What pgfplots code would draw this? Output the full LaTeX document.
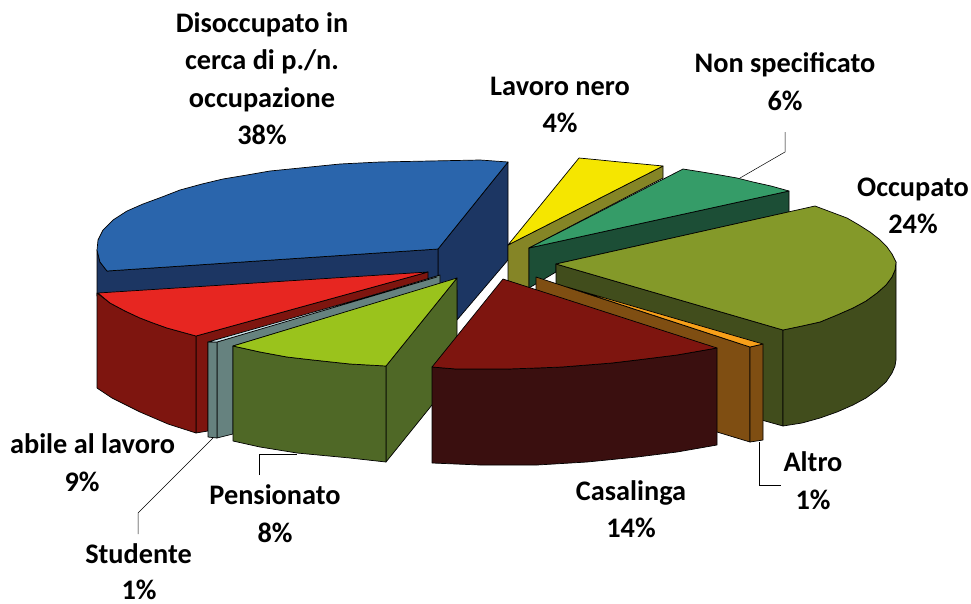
\documentclass[border=0pt]{standalone}
\usepackage{fontspec}
\setmainfont{Carlito}[BoldFont={Carlito Bold}]
\usepackage{pgfplots}
\pgfplotsset{compat=1.18}
\definecolor{blu}{HTML}{2A65AC}
\definecolor{blud}{HTML}{1C3663}
\definecolor{rd}{HTML}{E72621}
\definecolor{rdd}{HTML}{7E150F}
\definecolor{stu}{HTML}{CFE8F0}
\definecolor{stud}{HTML}{66827F}
\definecolor{lim}{HTML}{9AC31C}
\definecolor{limd}{HTML}{4F6826}
\definecolor{yel}{HTML}{F5E600}
\definecolor{yeld}{HTML}{858526}
\definecolor{grn}{HTML}{359C68}
\definecolor{grnd}{HTML}{1C4E36}
\definecolor{oli}{HTML}{849929}
\definecolor{olid}{HTML}{414D1C}
\definecolor{org}{HTML}{F7A01A}
\definecolor{orgd}{HTML}{7F4E12}
\definecolor{cas}{HTML}{7E150F}
\definecolor{casd}{HTML}{3A0F0F}
\newcommand{\face}[2]{\addplot[fill=#1,draw=black,line width=0.7pt,line join=round,mark=none,forget plot] coordinates {#2} -- cycle;}
% x centre, baseline y, text
\newcommand{\lbl}[3]{\node[font=\fontsize{28.3}{32}\selectfont\bfseries,anchor=base,inner sep=0pt] at (axis cs:#1,#2) {#3};}
\begin{document}
\begin{tikzpicture}
\begin{axis}[
  scale only axis, width=971pt, height=603pt,
  xmin=0, xmax=971, ymin=0, ymax=603,
  y dir=reverse, hide axis, clip=false,
]
% keeps the page at the full axis size
\addplot[draw=none,mark=none,forget plot] coordinates {(0,0)(971,603)};
% blue, Disoccupato
\face{blud}{(438,249)(508,162)(508,260)(457,320)(457,290)(438,290)}
\face{blud}{(97,250)(100,262)(107,271)(438,249)(438,290)(107,296)(97,296)}
\face{blu}{(97,250)(98,240)(103,230)(113,220)(127,211)(143,204)(162,197)(180,190)(202,184)(223,179)(247,175)(270,171)(300,168)(340,164)(380,162)(430,161)(480,160)(508,162)(438,249)(107,271)(100,262)}
% red, Inabile al lavoro
\face{rdd}{(196,336)(428,272)(428,282)(208,342)(208,431)(196,433)}
\face{rdd}{(97,293)(110,303)(125,311)(140,318)(153,323)(167,328)(196,336)(196,433)(168,424)(140,412)(112,398)(97,388)}
\face{rd}{(98,293)(428,272)(196,336)(167,328)(153,323)(140,318)(125,311)(110,303)}
% student
\face{stud}{(217,342)(440,275)(440,284)(233,346)(233,434)(217,438)}
\face{stud}{(208,342)(217,342)(217,438)(208,437)}
\face{stu}{(208,342)(437,277)(217,342)}
% lime, Pensionato
\face{limd}{(386,366)(457,278)(457,374)(386,462)}
\face{limd}{(233,346)(260,352)(287,357)(313,360)(350,364)(386,366)(386,462)(350,458)(297,453)(260,447)(233,441)}
\face{lim}{(233,346)(457,278)(386,366)(350,364)(313,360)(287,357)(260,352)}
% yellow, Lavoro nero
\face{yeld}{(508,245)(663,166)(663,178)(529,248)(529,288)(508,281)}
\face{yel}{(508,245)(579,158)(600,160)(620,162)(642,164)(663,166)}
% green, Non specificato
\face{grnd}{(529,248)(789,191)(789,212)(556,264)(556,272)(529,288)}
\face{grn}{(529,248)(683,169)(702,172)(720,175)(737,178)(753,182)(771,186)(789,191)}
% olive, Occupato
\face{olid}{(556,264)(783,330)(783,426)(740,414)(556,300)}
\face{olid}{(783,330)(802,326)(820,322)(837,315)(853,308)(866,301)(877,293)(886,285)(892,277)(895,270)(896,262)(896,360)(895,366)(892,373)(886,382)(877,390)(866,398)(853,405)(837,412)(820,418)(802,423)(783,426)}
\face{oli}{(556,264)(815,206)(831,212)(847,218)(859,225)(870,232)(879,239)(887,247)(892,254)(896,262)(895,270)(892,277)(886,285)(877,293)(866,301)(853,308)(837,315)(820,322)(802,326)(783,330)}
% orange, Altro
\face{orgd}{(536,277)(750,347)(750,442)(717,432)(536,310)}
\face{orgd}{(750,347)(763,344)(763,440)(750,442)}
\face{org}{(567,287)(763,344)(750,347)}
% dark red, Casalinga
\face{casd}{(432,367)(456,369)(480,369)(508,369)(537,368)(562,367)(587,365)(612,363)(637,360)(677,355)(717,348)(717,445)(677,452)(637,457)(587,462)(537,465)(480,465)(432,463)}
\face{cas}{(503,279)(717,348)(677,355)(637,360)(612,363)(587,365)(562,367)(537,368)(508,369)(480,369)(456,369)(432,367)}
% leader lines
\addplot[black,line width=0.5pt,mark=none,forget plot] coordinates {(740,178)(785,152)(785,132)};
\addplot[black,line width=0.5pt,mark=none,forget plot] coordinates {(759,442)(759,485)(781,485)};
\addplot[black,line width=0.5pt,mark=none,forget plot] coordinates {(259,475)(259,454)(297,454)};
\addplot[black,line width=0.5pt,mark=none,forget plot] coordinates {(213,438)(138,513)(138,534)};
% labels
\lbl{262}{32}{Disoccupato in}
\lbl{262}{69}{cerca di p./n.}
\lbl{262}{107}{occupazione}
\lbl{262}{144}{38\%}
\lbl{560}{95}{Lavoro nero}
\lbl{560}{132}{4\%}
\lbl{785}{72}{Non specificato}
\lbl{785}{110}{6\%}
\lbl{913}{196}{Occupato}
\lbl{913}{233}{24\%}
\lbl{813}{471}{Altro}
\lbl{813}{509}{1\%}
\lbl{631}{500}{Casalinga}
\lbl{631}{537}{14\%}
\lbl{275}{504}{Pensionato}
\lbl{275}{542}{8\%}
\lbl{138.5}{563}{Studente}
\lbl{139}{599}{1\%}
\lbl{92.5}{453}{abile al lavoro}
\lbl{82}{491}{9\%}
\end{axis}
\end{tikzpicture}
\end{document}
